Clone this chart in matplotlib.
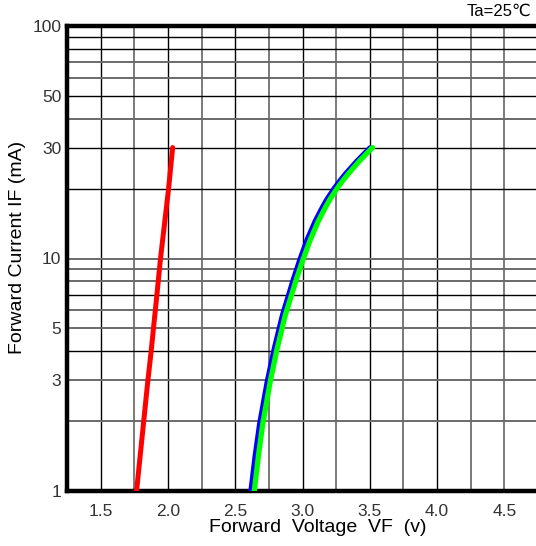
import matplotlib
matplotlib.use('Agg')
import matplotlib.pyplot as plt

plt.rcParams['font.family'] = ['Liberation Sans', 'DejaVu Sans']

# red curve
red_if = [1, 2.95, 3.93, 6.97, 9.9, 20, 30]
red_vf = [1.767, 1.850, 1.874, 1.918, 1.944, 2.005, 2.035]

# blue curve
blue_if = [1, 1.41, 1.95, 2.95, 4.06, 5.7, 8.16, 9.9, 12.0, 14.5, 16.7, 18.0, 20.0, 21.5, 23.2, 26.3, 30]
blue_vf = [2.614, 2.645, 2.679, 2.735, 2.786, 2.848, 2.930, 2.978, 3.030, 3.092, 3.147, 3.179,
           3.232, 3.272, 3.318, 3.402, 3.500]

# green curve
green_if = [1, 1.41, 1.95, 2.95, 4.06, 5.7, 8.16, 9.9, 12.0, 14.5, 16.7, 18.0, 20.0, 21.5, 23.2, 26.3, 30]
green_vf = [2.642, 2.672, 2.705, 2.760, 2.810, 2.872, 2.955, 3.004, 3.057, 3.118, 3.173, 3.205,
            3.257, 3.296, 3.342, 3.424, 3.520]

xticks = [1.5, 2.0, 2.5, 3.0, 3.5, 4.0, 4.5]
xlabels = ['1.5', '2.0', '2.5', '3.0', '3.5', '4.0', '4.5']
yticks = [1, 3, 5, 10, 30, 50, 100]
ylabels = ['1', '3', '5', '10', '30', '50', '100']

# grid lines (dark ones vs light ones, like the scan)
vgrid_dark = [1.5, 2.0, 2.5, 3.0, 3.5, 4.0]
vgrid_light = [1.75, 2.25, 2.75, 3.25, 3.75, 4.25, 4.5]
hgrid_dark = [4, 7, 20, 30, 50, 80, 90]
hgrid_light = [2, 3, 5, 6, 8, 9, 10, 40, 60, 70]

fig = plt.figure(figsize=(5.36, 5.46), dpi=100)
ax = fig.add_axes([67/536, 55/546, 471/536, 465/546])
ax.set_yscale('log')
ax.set_xlim(1.25, 4.75)
ax.set_ylim(1, 100)

for v in vgrid_dark:
    ax.axvline(v, color='black', lw=1.0, zorder=1)
for v in vgrid_light:
    ax.axvline(v, color='#7a7a7a', lw=1.4, zorder=1)
for h in hgrid_dark:
    ax.axhline(h, color='black', lw=1.0, zorder=1)
for h in hgrid_light:
    ax.axhline(h, color='#6a6a6a', lw=1.4, zorder=1)

ax.plot(red_vf, red_if, color='#ff0000', lw=3.6, solid_capstyle='round',
        solid_joinstyle='round', zorder=3)
ax.plot(blue_vf, blue_if, color='#0000ff', lw=3.2, solid_capstyle='round',
        solid_joinstyle='round', zorder=3)
ax.plot(green_vf, green_if, color='#00ff00', lw=3.8, solid_capstyle='round',
        solid_joinstyle='round', zorder=4)

ax.set_xticks(xticks)
ax.set_xticklabels(xlabels)
ax.set_yticks(yticks)
ax.set_yticklabels(ylabels)
ax.minorticks_off()
ax.tick_params(length=0, labelsize=12.5, colors='#333333')
ax.tick_params(axis='x', pad=9)
ax.tick_params(axis='y', pad=4)

for side in ['left', 'bottom', 'top']:
    ax.spines[side].set_linewidth(3.2)
ax.spines['right'].set_visible(False)

fig.text(318/536, 1 - 528/546, 'Forward  Voltage  VF  (v)', ha='center', va='center', fontsize=14)
fig.text(18/536, 1 - 247/546, 'Forward Current IF (mA)', ha='center', va='center',
         rotation=90, fontsize=14)
fig.text(531/536, 1 - 11/546, 'Ta=25℃', ha='right', va='center', fontsize=12)

fig.savefig('out.png', dpi=100)
